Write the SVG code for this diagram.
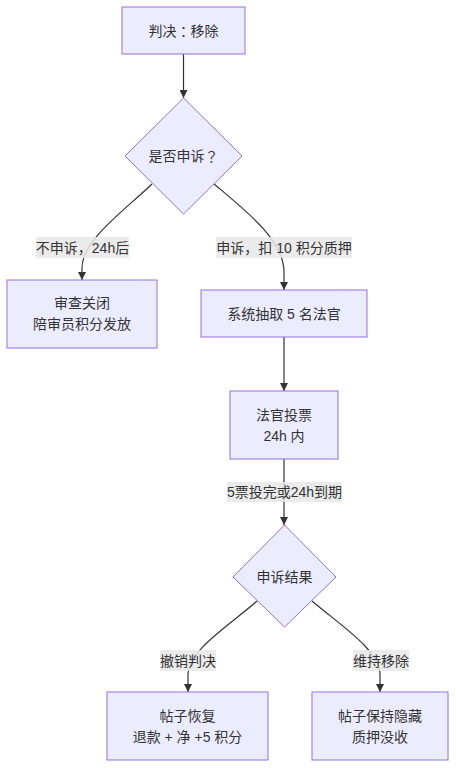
<svg xmlns="http://www.w3.org/2000/svg" width="456" height="768" viewBox="0 0 456 768">
<style>
.node rect, .node polygon { fill: #ECECFF; stroke: #9370DB; stroke-width: 1; }
.node text { font-family: "Liberation Sans", "Noto Sans CJK SC", sans-serif; font-size: 14px; fill: #333; text-anchor: middle; dominant-baseline: central; }
.jp { font-family: "Noto Sans CJK JP", sans-serif; }
.edges path { fill: none; stroke: #333; stroke-width: 1.2; }
.lbl rect { fill: #e8e8e8; opacity: 0.85; }
.lbl text { font-family: "Liberation Sans", "Noto Sans CJK SC", sans-serif; font-size: 14px; fill: #333; text-anchor: middle; dominant-baseline: central; }
</style>
<defs>
<marker id="arrow" viewBox="0 0 10 10" refX="10" refY="5" markerUnits="userSpaceOnUse" markerWidth="8" markerHeight="8" orient="auto">
<path d="M0,0 L10,5 L0,10 z" fill="#333"/>
</marker>
</defs>
<rect width="456" height="768" fill="#fff"/>
<g class="edges">
<path d="M183.5,54 L183.5,98" marker-end="url(#arrow)"/>
<path d="M152,184 C125,210 82,240 82,268 L82,280" marker-end="url(#arrow)"/>
<path d="M214,184 C245,210 284,240 284,272 L284,290" marker-end="url(#arrow)"/>
<path d="M284,337 L284,391" marker-end="url(#arrow)"/>
<path d="M284,459 L284,525" marker-end="url(#arrow)"/>
<path d="M257,601 C230,625 188,650 188,675 L188,692" marker-end="url(#arrow)"/>
<path d="M312,601 C340,625 380,650 380,675 L380,692" marker-end="url(#arrow)"/>
</g>
<g class="lbl" id="labels">
<rect x="36" y="237" width="93" height="21"/><text x="82.5" y="247.5">不申诉，24h后</text>
<rect x="216" y="237" width="136" height="21"/><text x="284" y="247.5">申诉，扣 10 积分质押</text>
<rect x="227" y="482" width="115" height="20"/><text x="284.5" y="492">5票投完或24h到期</text>
<rect x="160" y="650" width="56" height="21"/><text x="188" y="660.5">撤销判决</text>
<rect x="353" y="650" width="56" height="21"/><text x="381" y="660.5">维持移除</text>
</g>
<g class="node" id="A">
<rect x="122" y="7" width="123" height="47"/>
<text x="183.5" y="30.5">判决<tspan class="jp">：</tspan>移除</text>
</g>
<g class="node" id="B">
<polygon points="183.5,98 242,156 183.5,214 125,156"/>
<text x="183.5" y="156">是否申诉<tspan class="jp">？</tspan></text>
</g>
<g class="node" id="C">
<rect x="7" y="280" width="150" height="68"/>
<text x="82" y="303">审查关闭</text>
<text x="82" y="324">陪审员积分发放</text>
</g>
<g class="node" id="D">
<rect x="201" y="290" width="166" height="47"/>
<text x="284" y="313.5">系统抽取 5 名法官</text>
</g>
<g class="node" id="E">
<rect x="230" y="391" width="108" height="68"/>
<text x="284" y="415">法官投票</text>
<text x="284" y="436">24h 内</text>
</g>
<g class="node" id="F">
<polygon points="284.5,525 336,577 284.5,627 233,577"/>
<text x="284.5" y="577">申诉结果</text>
</g>
<g class="node" id="G">
<rect x="107" y="692" width="161" height="68"/>
<text x="187.5" y="716">帖子恢复</text>
<text x="187.5" y="737">退款 + 净 +5 积分</text>
</g>
<g class="node" id="H">
<rect x="312" y="692" width="136" height="68"/>
<text x="380" y="716">帖子保持隐藏</text>
<text x="380" y="737">质押没收</text>
</g>
</svg>
